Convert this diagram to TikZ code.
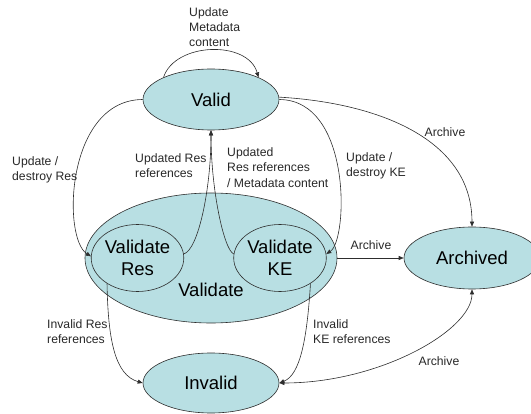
\documentclass[tikz,border=0pt]{standalone}
\usepackage{fontspec}
\setmainfont{Liberation Sans}
\usetikzlibrary{shapes.geometric,arrows.meta}
\definecolor{statefill}{RGB}{184,223,227}
\definecolor{lineclr}{RGB}{45,45,45}
\definecolor{labelclr}{RGB}{40,40,40}
\begin{document}
\begin{tikzpicture}[x=1pt,y=-1pt,
  state/.style={ellipse, draw=lineclr, line width=0.6pt, fill=statefill,
    inner sep=0pt, align=center, font=\fontsize{18.5}{21.5}\selectfont},
  bigtext/.style={inner sep=0pt, font=\fontsize{18.5}{21.5}\selectfont},
  lbl/.style={font=\fontsize{12.2}{15.2}\selectfont, align=left, anchor=west,
    inner sep=0pt, text=labelclr},
  conn/.style={draw=lineclr, line width=0.6pt, -{Triangle[length=5pt,width=4pt]}},
]
\useasboundingbox (0,0) rectangle (531,414);

% states
\node[state, minimum width=136pt, minimum height=61pt] (valid) at (211,99.5) {Valid};
\node[state, minimum width=252pt, minimum height=130pt] (validate) at (211,258) {};
\node[state, minimum width=80pt, minimum height=67pt] (vres) at (137.5,258) {Validate\\Res};
\node[state, minimum width=80pt, minimum height=67pt] (vke) at (280,258) {Validate\\KE};
\node[bigtext] (validatetxt) at (211,290) {Validate};
\node[state, minimum width=136pt, minimum height=62pt] (archived) at (472,258) {Archived};
\node[state, minimum width=136pt, minimum height=60pt] (invalid) at (211,383) {Invalid};

% transitions
\draw[conn] (valid.155) .. controls (175,42) and (248,40) .. (valid.25);
\draw[conn] (valid.180) .. controls (66,100) and (62,238) .. (vres.178);
\draw[conn] (vres.5) .. controls (198,250) and (211,190) .. (valid.270);
\draw[conn] (vke.175) .. controls (224,250) and (211,190) .. (valid.270);
\draw[conn] (valid.0) .. controls (352,100) and (348,240) .. (vke.5);
\draw[conn] (valid.2) .. controls (380,103) and (472,140) .. (archived.90);
\draw[conn] (validate.east) -- (archived.west);
\draw[conn] (vres.220) .. controls (108,340) and (115,375) .. (invalid.180);
\draw[conn] (vke.320) .. controls (307,340) and (300,375) .. (invalid.0);
\draw[conn, {Triangle[length=5pt,width=4pt]}-{Triangle[length=5pt,width=4pt]}]
  (invalid.0) .. controls (380,383) and (472,330) .. (archived.270);

% transition labels
\node[lbl] (l1) at (189,27) {Update\\Metadata\\content};
\node[lbl] (l2) at (12,170) {Update /\\destroy Res};
\node[lbl] (l3) at (135,165.5) {Updated Res\\references};
\node[lbl] (l4) at (227,167.5) {Updated\\Res references\\/ Metadata content};
\node[lbl] (l5) at (346,165.5) {Update /\\destroy KE};
\node[lbl, anchor=center] (l6) at (445,132) {Archive};
\node[lbl, anchor=center] (l7) at (371,245.5) {Archive};
\node[lbl] (l8) at (47,332) {Invalid Res\\references};
\node[lbl] (l9) at (313,332) {Invalid\\KE references};
\node[lbl, anchor=center] (l10) at (439,361) {Archive};
\end{tikzpicture}
\end{document}
